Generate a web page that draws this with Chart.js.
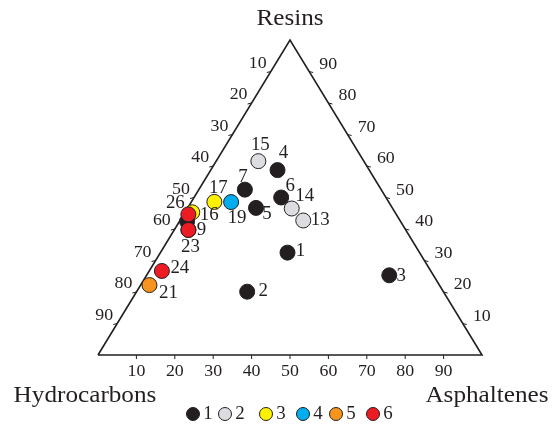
<!DOCTYPE html>
<html>
<head>
<meta charset="utf-8">
<script src="https://cdn.jsdelivr.net/npm/chart.js@4"></script>
<style>
html,body{margin:0;padding:0;background:#fff;}
#wrap{width:552px;height:424px;position:relative;}
</style>
</head>
<body>
<div id="wrap"><canvas id="c" width="552" height="424"></canvas></div>
<script>
// ---- data (percent) ----
const sampleIds   = ['1','2','3','4','5','6','7','13','14','15','17','19','16','','26','9','23','24','21'];
const sampleGroup = [1,1,1,1,1,1,1,2,2,2,3,4,3,1,6,6,6,6,5];
const hydrocarbons = [34.4,51.1,11.5,23.9,35.5,27.3,35.5,25.2,26.3,27.5,45.4,41.1,52.8,55.6,54.2,56.6,56.6,70.1,75.5];
const resins       = [32.5,20.1,25.3,58.7,46.7,50.0,52.5,42.7,46.5,61.6,48.6,48.6,45.3,42.4,44.7,39.7,39.7,26.7,22.2];
const asphaltenes  = [33.1,28.8,63.2,17.4,17.8,22.7,12.0, 32.1,27.2,11.0,6.0,10.4,1.9,2.0,1.2,3.7,3.7,3.3,2.3];
const groupNames = ['1','2','3','4','5','6'];
const tickValues = [10,20,30,40,50,60,70,80,90];
const axisTitles = ['Hydrocarbons','Resins','Asphaltenes'];

// ---- styles ----
const groupColors = {1:'#231f20',2:'#dcdde0',3:'#fff200',4:'#00aeef',5:'#f7941d',6:'#ed1c24'};
const labelOffsets = {
  '1':[13,-1],'2':[16,0],'3':[12,1],'4':[6,-17],'5':[11,6],'6':[9,-11],'7':[-2,-12],
  '13':[17,0],'14':[13,-12],'15':[2,-16],'17':[4,-14],'19':[6,16],'16':[17,3],
  '26':[-13,-11],'9':[13,0],'23':[2,17],'24':[18,-3],'21':[19,8]
};
const SERIF = '"Liberation Serif","DejaVu Serif",serif';
const SX = 1.05;

function toXY(h,r,a){ const s=h+r+a; r/=s; a/=s; return {x:a + r/2, y:r}; }

// build datasets per group (drawing order: red on top)
const drawOrder = {6:0,5:1,4:2,3:3,2:4,1:5};
const datasets = [];
groupNames.forEach((g,gi)=>{
  const gid = gi+1;
  const pts = [];
  sampleIds.forEach((id,i)=>{
    if (sampleGroup[i]===gid){
      const p = toXY(hydrocarbons[i],resins[i],asphaltenes[i]);
      pts.push({x:p.x,y:p.y,id:id});
    }
  });
  datasets.push({
    label:g, data:pts, type:'scatter',
    backgroundColor:groupColors[gid], borderColor:'#231f20', borderWidth:1,
    pointRadius:7.5, pointHoverRadius:7.5, order:drawOrder[gid], clip:false
  });
});
// triangle frame
datasets.push({
  label:'frame', type:'line',
  data:[{x:0,y:0},{x:1,y:0},{x:0.5,y:1},{x:0,y:0}],
  borderColor:'#231f20', borderWidth:1.6, pointRadius:0, fill:false, tension:0,
  order:10, clip:false
});

function txt(ctx, s, x, y, size, align){
  ctx.save();
  ctx.font = size+'px '+SERIF;
  ctx.fillStyle = '#231f20';
  ctx.textBaseline = 'middle';
  ctx.textAlign = align||'center';
  ctx.translate(x,y);
  ctx.scale(SX,1);
  ctx.fillText(s,0,0);
  ctx.restore();
}

const ternaryPlugin = {
  id:'ternary',
  afterDatasetsDraw(chart){
    const ctx = chart.ctx, xs = chart.scales.x, ys = chart.scales.y;
    const P = (x,y)=>[xs.getPixelForValue(x), ys.getPixelForValue(y)];
    ctx.save();
    ctx.strokeStyle = '#231f20'; ctx.lineWidth = 1;
    tickValues.forEach(v=>{
      // bottom: asphaltenes
      let p = P(v/100,0);
      ctx.beginPath(); ctx.moveTo(p[0],p[1]); ctx.lineTo(p[0],p[1]+4); ctx.stroke();
      txt(ctx,String(v),p[0],p[1]+17,17);
      // left: hydrocarbons
      const r = (100-v)/100;
      p = P(r/2, r);
      ctx.beginPath(); ctx.moveTo(p[0],p[1]); ctx.lineTo(p[0]-4,p[1]+1); ctx.stroke();
      txt(ctx,String(v),p[0]-13,p[1]-8,17);
      // right: resins
      const r2 = v/100;
      p = P(1-r2/2, r2);
      ctx.beginPath(); ctx.moveTo(p[0],p[1]); ctx.lineTo(p[0]+4,p[1]+1); ctx.stroke();
      txt(ctx,String(v),p[0]+19,p[1]-7,17);
    });
    // axis titles
    const top = P(0.5,1), bl = P(0,0), br = P(1,0);
    txt(ctx, axisTitles[1], top[0], top[1]-21, 24);
    txt(ctx, axisTitles[0], bl[0]-13, bl[1]+41, 24);
    txt(ctx, axisTitles[2], br[0]+5, br[1]+41, 24);
    // point labels
    chart.data.datasets.forEach((ds,di)=>{
      if (ds.type!=='scatter') return;
      const meta = chart.getDatasetMeta(di);
      meta.data.forEach((el,i)=>{
        const id = ds.data[i].id;
        if (!id) return;
        const o = labelOffsets[id]||[12,0];
        txt(ctx,id,el.x+o[0],el.y+o[1],18);
      });
    });
    // legend
    const legendX = [193,225,266,303,336,373];
    const ly = 414;
    groupNames.forEach((g,gi)=>{
      const cx = legendX[gi];
      ctx.beginPath(); ctx.arc(cx,ly,6.5,0,Math.PI*2);
      ctx.fillStyle = groupColors[gi+1]; ctx.fill();
      ctx.strokeStyle = '#231f20'; ctx.lineWidth = 1; ctx.stroke();
      txt(ctx,g,cx+15,ly,18);
    });
    ctx.restore();
  }
};

new Chart(document.getElementById('c'),{
  type:'scatter',
  data:{datasets:datasets},
  options:{
    responsive:false, animation:false, devicePixelRatioOverride:1,
    layout:{padding:{left:98,right:70,top:40,bottom:69}},
    scales:{
      x:{type:'linear',min:0,max:1,display:false},
      y:{type:'linear',min:0,max:1,display:false}
    },
    plugins:{legend:{display:false},tooltip:{enabled:false}},
    events:[]
  },
  plugins:[ternaryPlugin]
});
</script>
</body>
</html>
